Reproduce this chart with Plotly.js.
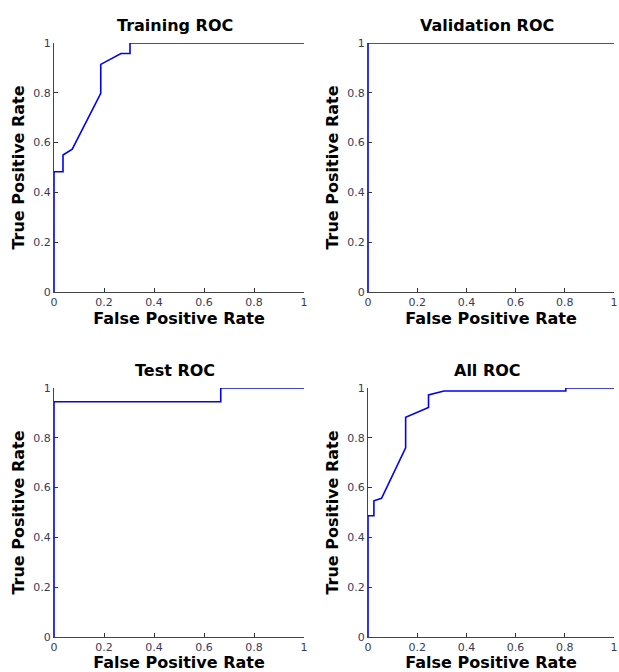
<!DOCTYPE html>
<html><head><meta charset="utf-8">
<script src="https://cdn.plot.ly/plotly-3.0.1.min.js"></script>
<style>html,body{margin:0;padding:0;background:#fff}#c{width:619px;height:672px}</style>
</head><body><div id="c"></div>
<script>
const titles = ["Training ROC", "Validation ROC", "Test ROC", "All ROC"];
const tickVals = [0, 0.2, 0.4, 0.6, 0.8, 1];
const tickText = ["0", "0.2", "0.4", "0.6", "0.8", "1"];
const trainFPR = [0, 0, 0.036, 0.036, 0.073, 0.187, 0.187, 0.268, 0.304, 0.304, 1];
const trainTPR = [0, 0.483, 0.483, 0.55, 0.574, 0.798, 0.914, 0.958, 0.958, 1, 1];
const valFPR = [0, 0, 1];
const valTPR = [0, 1, 1];
const testFPR = [0, 0, 0.667, 0.667, 1];
const testTPR = [0, 0.945, 0.945, 1, 1];
const allFPR = [0, 0, 0.024, 0.024, 0.055, 0.153, 0.153, 0.246, 0.246, 0.309, 0.804, 0.804, 1];
const allTPR = [0, 0.487, 0.487, 0.547, 0.557, 0.76, 0.882, 0.922, 0.972, 0.988, 0.988, 1, 1];

const series = [[trainFPR, trainTPR], [valFPR, valTPR], [testFPR, testTPR], [allFPR, allTPR]];
const xDom = [[54/619, 304/619], [368/619, 614/619]];
const yDom = [[1-292/672, 1-43/672], [1-637/672, 1-388/672]];

const traces = [];
const layout = {
  width: 619, height: 672, margin: {l:0, r:0, t:0, b:0},
  paper_bgcolor: "#fff", plot_bgcolor: "#fff", showlegend: false,
  font: {family: "DejaVu Sans, sans-serif", size: 11, color: "#3a3a5a"},
  annotations: []
};
series.forEach((s, i) => {
  const n = i === 0 ? "" : String(i + 1);
  traces.push({x: s[0], y: s[1], type: "scatter", mode: "lines", xaxis: "x" + n, yaxis: "y" + n,
    line: {color: "#0000ff", width: 1.6}, cliponaxis: false, hoverinfo: "skip"});
  const col = i % 2, row = Math.floor(i / 2);
  const axBase = {range: [0, 1], tickvals: tickVals, ticktext: tickText, ticks: "inside", ticklen: 4,
    tickcolor: "#333", showline: true, linecolor: "#444", linewidth: 1, showgrid: false, zeroline: false,
    mirror: false, fixedrange: true, ticklabeloverflow: "allow",
    tickfont: {size: 11, color: "#3a3a5a", family: "DejaVu Sans, sans-serif"}};
  layout["xaxis" + n] = Object.assign({}, axBase, {domain: xDom[col], anchor: "y" + n,
    title: {text: "False Positive Rate", standoff: 2, font: {size: 16, family: "DejaVu Sans, sans-serif", color: "#000", weight: "bold"}}});
  layout["yaxis" + n] = Object.assign({}, axBase, {domain: yDom[row], anchor: "x" + n,
    title: {text: "True Positive Rate", standoff: 4, font: {size: 16, family: "DejaVu Sans, sans-serif", color: "#000", weight: "bold"}}});
  layout.annotations.push({text: "<b>" + titles[i] + "</b>", xref: "paper", yref: "paper",
    x: (xDom[col][0] + xDom[col][1]) / 2 - 4/619, xanchor: "center", y: yDom[row][1], yanchor: "bottom", yshift: 6,
    showarrow: false, font: {size: 16, color: "#000", family: "DejaVu Sans, sans-serif"}});
});
Plotly.newPlot("c", traces, layout, {displayModeBar: false, staticPlot: true});
</script></body></html>
